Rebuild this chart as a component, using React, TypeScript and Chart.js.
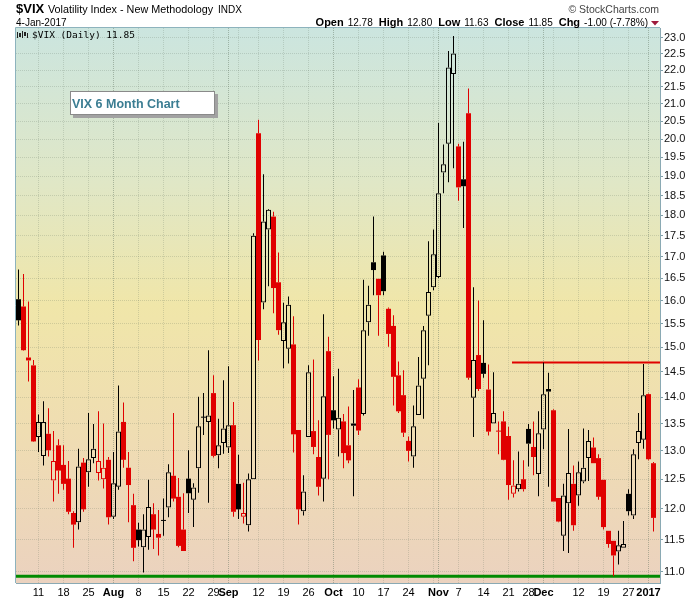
import React, { useEffect, useRef } from 'react';
import { Chart, registerables } from 'chart.js';

Chart.register(...registerables);

// ---- Data (VIX daily, 5-Jul-2016 .. 4-Jan-2017, one entry per trading day) ----
const opens = [
  16.03, 15.87, 14.79, 14.63, 13.25, 12.91, 13.31, 12.48, 13.10, 12.75,
  12.51, 11.93, 11.78, 12.79, 12.62, 12.87, 12.61, 12.50, 12.84, 11.87,
  12.37, 13.53, 12.70, 12.06, 11.66, 11.38, 11.54, 11.91, 11.59, 11.80,
  12.02, 12.56, 12.20, 11.66, 12.51, 12.15, 12.69, 13.61, 13.53, 14.08,
  12.92, 13.14, 13.06, 13.47, 12.42, 11.87, 11.73, 12.50, 20.16, 15.96,
  17.65, 17.97, 16.41, 15.13, 14.97, 15.06, 13.38, 11.96, 13.25, 13.36,
  12.89, 12.51, 14.92, 13.75, 13.39, 13.54, 13.10, 13.50, 14.19, 13.68,
  15.53, 16.87, 16.49, 17.03, 15.82, 15.45, 14.43, 14.04, 13.18, 12.90,
  13.66, 14.36, 15.67, 16.30, 16.53, 19.10, 19.87, 21.88, 19.80, 18.92,
  20.73, 13.99, 14.84, 14.68, 14.15, 13.50, 13.36, 13.54, 13.27, 12.25,
  12.33, 12.50, 13.40, 13.07, 12.59, 13.39, 14.16, 13.75, 12.18, 11.56,
  12.09, 12.42, 12.22, 12.46, 12.87, 13.06, 12.87, 12.49, 11.64, 11.48,
  11.31, 11.37, 12.25, 11.89, 13.14, 13.20, 14.06, 12.78,
];
const highs = [
  16.70, 16.60, 15.98, 14.74, 13.67, 13.92, 13.79, 13.36, 13.21, 13.10,
  12.82, 11.96, 13.04, 12.87, 13.70, 13.49, 13.73, 13.50, 12.89, 12.98,
  14.23, 13.90, 12.98, 12.25, 11.77, 11.91, 12.49, 12.09, 11.98, 12.17,
  12.76, 13.70, 12.52, 12.26, 13.01, 12.43, 14.01, 14.08, 14.94, 14.43,
  13.59, 14.33, 14.61, 13.91, 12.93, 12.44, 12.60, 17.56, 20.54, 19.05,
  18.16, 18.09, 17.10, 15.95, 16.09, 15.66, 13.38, 12.57, 14.63, 14.75,
  13.56, 15.70, 15.22, 14.41, 14.56, 13.68, 13.82, 14.14, 14.35, 16.47,
  16.33, 17.97, 16.49, 17.12, 15.85, 15.68, 14.71, 14.53, 13.26, 13.84,
  14.80, 15.45, 17.37, 17.65, 20.45, 19.85, 22.59, 23.06, 19.87, 19.93,
  21.45, 16.30, 16.00, 15.57, 14.65, 14.49, 13.54, 13.73, 13.44, 12.83,
  12.99, 12.83, 13.49, 13.54, 13.73, 14.69, 14.48, 13.77, 12.18, 12.42,
  13.40, 12.74, 12.81, 13.41, 13.38, 13.24, 12.94, 12.49, 11.64, 11.48,
  11.64, 11.80, 12.33, 13.03, 13.70, 14.66, 14.07, 12.80,
];
const lows = [
  15.46, 14.93, 14.31, 13.16, 12.98, 12.74, 12.90, 12.12, 12.25, 12.32,
  11.91, 11.37, 11.66, 11.95, 12.37, 12.78, 12.48, 12.34, 11.74, 11.83,
  12.32, 12.70, 11.78, 11.16, 11.39, 10.99, 11.34, 11.35, 11.25, 11.56,
  11.86, 12.12, 11.38, 11.32, 11.93, 11.70, 12.27, 13.29, 12.10, 12.88,
  12.69, 12.95, 12.96, 11.87, 11.83, 11.76, 11.63, 12.50, 14.73, 15.81,
  16.32, 15.72, 15.26, 14.57, 14.67, 12.97, 11.74, 11.89, 13.25, 12.94,
  12.22, 12.12, 12.50, 13.41, 12.90, 12.69, 12.78, 12.21, 13.29, 13.65,
  15.24, 16.12, 15.24, 16.12, 15.01, 13.84, 13.70, 13.25, 12.81, 12.70,
  13.66, 13.59, 14.63, 16.23, 16.51, 18.56, 18.84, 19.21, 18.37, 17.69,
  14.34, 13.25, 14.12, 14.38, 13.28, 13.50, 12.94, 12.83, 12.15, 12.19,
  12.29, 12.29, 12.72, 12.57, 12.21, 13.03, 12.37, 12.12, 11.78, 11.32,
  11.29, 11.64, 12.05, 12.43, 12.47, 12.78, 12.15, 11.66, 11.37, 10.93,
  11.11, 11.37, 11.89, 11.83, 12.85, 13.04, 12.83, 11.63,
];
const closes = [
  15.57, 14.94, 14.73, 13.17, 13.53, 13.53, 13.01, 12.82, 12.65, 12.42,
  11.95, 11.74, 12.72, 11.99, 12.85, 13.04, 12.82, 12.70, 11.86, 12.43,
  13.35, 12.84, 12.40, 11.37, 11.49, 11.66, 12.03, 11.66, 11.53, 11.80,
  12.62, 12.17, 11.40, 11.32, 12.26, 12.36, 13.45, 13.61, 13.65, 12.91,
  13.10, 13.41, 13.47, 11.95, 11.99, 11.93, 12.50, 17.50, 15.15, 17.85,
  18.14, 16.28, 15.36, 15.53, 15.91, 13.30, 11.99, 12.29, 14.49, 13.07,
  12.37, 14.02, 13.29, 13.56, 13.61, 12.96, 12.83, 13.46, 13.37, 15.36,
  15.91, 16.69, 16.12, 16.21, 15.28, 14.40, 13.73, 13.33, 13.00, 13.45,
  14.23, 15.36, 16.19, 17.06, 18.56, 19.32, 22.08, 22.51, 18.71, 18.74,
  14.38, 14.74, 14.16, 14.46, 13.35, 13.70, 13.35, 12.84, 12.40, 12.39,
  12.42, 12.33, 13.13, 12.89, 13.32, 14.06, 14.11, 12.12, 11.79, 12.22,
  12.61, 11.73, 12.62, 12.70, 13.18, 12.78, 12.20, 11.70, 11.43, 11.25,
  11.41, 11.43, 11.96, 12.94, 13.36, 14.04, 12.85, 11.85,
];

// y-axis ticks (log scale)
const yTickValues = [
  11.0, 11.5, 12.0, 12.5, 13.0, 13.5, 14.0, 14.5, 15.0, 15.5, 16.0, 16.5,
  17.0, 17.5, 18.0, 18.5, 19.0, 19.5, 20.0, 20.5, 21.0, 21.5, 22.0, 22.5, 23.0,
];
const yMin = 10.83;
const yMax = 23.32;

// x-axis: trading-day indices of gridlines / labels
const gridIdx = [4, 9, 14, 19, 24, 29, 34, 39, 42, 44, 48, 53, 58, 63, 68, 73, 78, 83, 84, 88, 93, 98, 102, 105, 107, 112, 117, 122, 126];
const monthIdx = [19, 42, 63, 84, 105, 126];
const xLabelIdx = [4, 9, 14, 19, 24, 29, 34, 39, 42, 48, 53, 58, 63, 68, 73, 78, 84, 88, 93, 98, 102, 105, 112, 117, 122, 126];
const xLabelText = ['11', '18', '25', 'Aug', '8', '15', '22', '29', 'Sep', '12', '19', '26', 'Oct', '10', '17', '24', 'Nov', '7', '14', '21', '28', 'Dec', '12', '19', '27', '2017'];
const xMin = -0.5;
const xMax = 128.3;

// header quote
const quoteLabels = ['Open', 'High', 'Low', 'Close', 'Chg'];
const quoteValues = ['12.78', '12.80', '11.63', '11.85', '-1.00 (-7.78%)'];

// horizontal reference lines
const resistanceLevel = 14.69;
const resistanceFrom = 98.7;
const supportLevel = 10.93;

const RED = '#e00000';
const BLACK = '#000000';
const FONT = "'Liberation Sans', Arial, sans-serif";

export default function App() {
  const ref = useRef<HTMLCanvasElement>(null);

  useEffect(() => {
    document.body.style.margin = '0';
    const canvas = ref.current;
    if (!canvas) return;

    const n = closes.length;
    const colorOf = (i: number) => (i > 0 && closes[i] < closes[i - 1] ? RED : BLACK);

    const filledData: any[] = [];
    const filledColors: string[] = [];
    const hollowData: any[] = [];
    const hollowColors: string[] = [];
    const upData: any[] = [];
    const upColors: string[] = [];
    const dnData: any[] = [];
    const dnColors: string[] = [];

    for (let i = 0; i < n; i++) {
      const o = opens[i], c = closes[i], h = highs[i], l = lows[i];
      const col = colorOf(i);
      const top = Math.max(o, c), bot = Math.min(o, c);
      if (c > o) {
        hollowData.push({ x: i, y: [o, c] });
        hollowColors.push(col);
      } else {
        filledData.push({ x: i, y: [o, c] });
        filledColors.push(col);
      }
      if (h > top) { upData.push({ x: i, y: [top, h] }); upColors.push(col); }
      if (l < bot) { dnData.push({ x: i, y: [l, bot] }); dnColors.push(col); }
    }

    const labelMap = new Map<number, string>();
    xLabelIdx.forEach((v, k) => labelMap.set(v, xLabelText[k]));
    const monthSet = new Set(monthIdx);

    const decorPlugin = {
      id: 'decor',
      beforeDraw(chart: any) {
        const { ctx, chartArea: a } = chart;
        ctx.save();
        ctx.fillStyle = '#ffffff';
        ctx.fillRect(0, 0, chart.width, chart.height);
        const g = ctx.createLinearGradient(0, a.top, 0, a.bottom);
        g.addColorStop(0, '#cbe5df');
        g.addColorStop(0.28, '#e0e7c6');
        g.addColorStop(0.5, '#f0e6a9');
        g.addColorStop(0.75, '#efdcb3');
        g.addColorStop(1, '#ebd2bf');
        ctx.fillStyle = g;
        ctx.fillRect(a.left, a.top, a.right - a.left, a.bottom - a.top);
        ctx.restore();
      },
      afterDraw(chart: any) {
        const { ctx, chartArea: a } = chart;
        ctx.save();
        // plot frame (left & top)
        ctx.strokeStyle = '#8db3bd';
        ctx.lineWidth = 1;
        ctx.beginPath();
        ctx.moveTo(a.left - 0.5, a.bottom);
        ctx.lineTo(a.left - 0.5, a.top - 0.5);
        ctx.lineTo(a.right, a.top - 0.5);
        ctx.stroke();

        // header
        ctx.fillStyle = '#000';
        ctx.textBaseline = 'alphabetic';
        ctx.textAlign = 'left';
        ctx.font = `bold 13px ${FONT}`;
        ctx.fillText('$VIX', 16, 13);
        ctx.font = `10.8px ${FONT}`;
        ctx.fillText('Volatility Index - New Methodology', 48, 13);
        const w1 = ctx.measureText('Volatility Index - New Methodology').width;
        ctx.font = `10px ${FONT}`;
        ctx.fillText('INDX', 48 + w1 + 5, 13);
        ctx.font = `10px ${FONT}`;
        ctx.fillText('4-Jan-2017', 16, 26);

        ctx.fillStyle = '#444';
        ctx.font = `10.5px ${FONT}`;
        ctx.textAlign = 'right';
        ctx.fillText('\u00A9 StockCharts.com', 659, 13);
        ctx.textAlign = 'left';

        // quote line, laid out right-to-left ending at x=648
        const labFont = `bold 11px ${FONT}`;
        const valFont = `10px ${FONT}`;
        const labGap = 4;
        const grpGap = 6;
        let total = 0;
        const widths = quoteLabels.map((lab, k) => {
          ctx.font = labFont;
          const lw = ctx.measureText(lab).width;
          ctx.font = valFont;
          const vw = ctx.measureText(quoteValues[k]).width;
          return [lw, vw];
        });
        widths.forEach(([lw, vw], k) => { total += lw + labGap + vw + (k > 0 ? grpGap : 0); });
        let x = 648 - total;
        quoteLabels.forEach((lab, k) => {
          const [lw, vw] = widths[k];
          ctx.fillStyle = '#000';
          ctx.font = labFont;
          ctx.fillText(lab, x, 26);
          ctx.font = valFont;
          ctx.fillText(quoteValues[k], x + lw + labGap, 26);
          x += lw + labGap + vw + grpGap;
        });
        ctx.fillStyle = '#9e1a3c';
        ctx.beginPath();
        ctx.moveTo(651, 21);
        ctx.lineTo(659, 21);
        ctx.lineTo(655, 25.5);
        ctx.closePath();
        ctx.fill();

        // legend
        ctx.fillStyle = '#222';
        ctx.fillRect(17, 32, 1, 6);
        ctx.fillRect(19, 33, 2, 4);
        ctx.fillRect(22, 31, 1, 7);
        ctx.fillRect(24, 32, 2, 4);
        ctx.fillRect(27, 33, 1, 5);
        ctx.fillStyle = '#000';
        ctx.font = `9.5px 'DejaVu Sans Mono', monospace`;
        ctx.fillText('$VIX (Daily) 11.85', 32, 38);

        // annotation box
        ctx.fillStyle = '#a2a2a2';
        ctx.fillRect(73, 94, 145, 24);
        ctx.fillStyle = '#ffffff';
        ctx.fillRect(70, 91, 145, 24);
        ctx.strokeStyle = '#8a8a8a';
        ctx.strokeRect(70.5, 91.5, 144, 23);
        ctx.fillStyle = '#3b7d92';
        ctx.font = `bold 12.5px ${FONT}`;
        ctx.fillText('VIX 6 Month Chart', 72, 108);
        ctx.restore();
      },
    };

    const barCommon = { grouped: false, inflateAmount: 0, borderSkipped: false as const };

    const chart = new Chart(canvas, {
      type: 'bar',
      data: {
        datasets: [
          { ...barCommon, type: 'bar', data: filledData, backgroundColor: filledColors, borderWidth: 0, barThickness: 5, minBarLength: 1 } as any,
          { ...barCommon, type: 'bar', data: hollowData, backgroundColor: 'rgba(0,0,0,0)', borderColor: hollowColors, borderWidth: 1, barThickness: 5 } as any,
          { ...barCommon, type: 'bar', data: upData, backgroundColor: upColors, borderWidth: 0, barThickness: 1 } as any,
          { ...barCommon, type: 'bar', data: dnData, backgroundColor: dnColors, borderWidth: 0, barThickness: 1 } as any,
          {
            type: 'line',
            data: [{ x: resistanceFrom, y: resistanceLevel }, { x: xMax, y: resistanceLevel }],
            borderColor: RED, borderWidth: 2, pointRadius: 0, tension: 0,
          } as any,
          {
            type: 'line',
            data: [{ x: xMin, y: supportLevel }, { x: xMax, y: supportLevel }],
            borderColor: '#008a00', borderWidth: 3, pointRadius: 0, tension: 0,
          } as any,
        ],
      },
      options: {
        responsive: false,
        animation: false,
        devicePixelRatio: 1,
        events: [],
        layout: { padding: { left: 16, top: 28, right: 0, bottom: 0 } },
        plugins: { legend: { display: false }, tooltip: { enabled: false } },
        scales: {
          x: {
            type: 'linear',
            min: xMin,
            max: xMax,
            offset: false,
            afterFit: (s: any) => { s.height = 17; },
            afterBuildTicks: (s: any) => { s.ticks = gridIdx.map((v) => ({ value: v })); },
            grid: {
              offset: false,
              drawTicks: false,
              color: (c: any) => (c.tick && monthSet.has(c.tick.value) ? 'rgba(90,110,90,0.42)' : 'rgba(90,110,90,0.22)'),
            },
            border: { display: true, color: '#8aa9b3', dash: [1, 1] },
            ticks: {
              autoSkip: false,
              maxRotation: 0,
              padding: 3,
              color: '#000',
              callback: (v: any) => labelMap.get(Number(v)) ?? '',
              font: (c: any) => ({
                family: FONT,
                size: 11,
                weight: c.tick && monthSet.has(c.tick.value) ? 'bold' : 'normal',
              }),
            },
          } as any,
          y: {
            type: 'logarithmic',
            position: 'right',
            min: yMin,
            max: yMax,
            afterFit: (s: any) => { s.width = 40; },
            afterBuildTicks: (s: any) => { s.ticks = yTickValues.map((v) => ({ value: v })); },
            grid: {
              color: 'rgba(90,110,90,0.22)',
              tickColor: '#7f9fa9',
              tickLength: 3,
            },
            border: { display: true, color: '#8aa9b3', dash: [1, 1] },
            ticks: {
              autoSkip: false,
              padding: 1,
              color: '#111',
              font: { family: FONT, size: 11 },
              callback: (v: any) => Number(v).toFixed(1),
            },
          } as any,
        },
      },
      plugins: [decorPlugin],
    } as any);

    return () => chart.destroy();
  }, []);

  return (
    <div style={{ position: 'fixed', left: 0, top: 0, width: 700, height: 600, background: '#fff' }}>
      <canvas ref={ref} width={700} height={600} style={{ display: 'block', width: 700, height: 600 }} />
    </div>
  );
}
